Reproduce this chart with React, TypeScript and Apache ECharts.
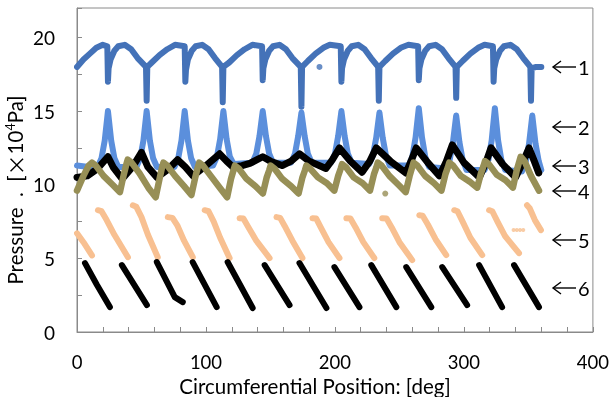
import React, { useEffect, useRef } from "react";
import * as echarts from "echarts";

const xTickLabels = [0, 100, 200, 300, 400];
const yTickLabels = [0, 5, 10, 15, 20];
const curveLabels = ["1", "2", "3", "4", "5", "6"];
const xTitle = "Circumferential Position: [deg]";

const series1 = [
  [0, 18.0], [5, 18.5], [10, 18.9], [15, 19.3], [20, 19.5], [23.5, 19.4],
  [24, 17.0], [24.5, 17.9], [26, 18.5], [29, 19.1], [32, 19.4], [37, 19.5], [42, 19.2], [47, 18.6], [53.5, 18.0],
  [54, 15.7], [54.5, 18.0], [58, 18.3], [64, 18.8], [70, 19.2], [76, 19.5], [83.5, 19.4],
  [84, 17.0], [84.5, 17.8], [86, 18.5], [89, 19.1], [92, 19.4], [97, 19.5], [102, 19.2], [107, 18.6], [112.5, 18.0],
  [113, 15.6], [113.5, 18.0], [118, 18.3], [124, 18.8], [130, 19.2], [136, 19.5], [143.5, 19.4],
  [144, 17.1], [144.5, 17.9], [146, 18.5], [149, 19.1], [152, 19.4], [157, 19.5], [162, 19.2], [167, 18.6], [173.5, 18.0],
  [174, 15.3], [174.5, 18.0], [179, 18.4], [185, 18.9], [191, 19.3], [196, 19.5], [204.5, 19.4],
  [205, 17.0], [205.5, 17.9], [207, 18.5], [210, 19.1], [213, 19.4], [218, 19.5], [223, 19.2], [228, 18.6], [233.5, 18.0],
  [234, 15.7], [234.5, 18.0], [239, 18.4], [245, 18.9], [251, 19.3], [257, 19.5], [264.5, 19.4],
  [265, 17.1], [265.5, 17.9], [267, 18.5], [270, 19.1], [273, 19.4], [278, 19.5], [283, 19.2], [288, 18.6], [293.5, 18.0],
  [294, 15.9], [294.5, 18.0], [299, 18.4], [305, 18.9], [311, 19.3], [316, 19.5], [322.5, 19.4],
  [323, 17.0], [323.5, 17.9], [325, 18.5], [328, 19.1], [331, 19.4], [336, 19.5], [341, 19.2], [346, 18.6], [351.5, 18.0],
  [352, 15.7], [352.5, 17.9], [356, 18.0], [360, 18.0],
];
const series1Stray = [[188, 18.0]];

const series2 = [
  [0, 11.3], [9, 11.2],
  [16, 11.2], [19, 11.8], [21.5, 13.0], [24, 15.0], [26.5, 13.0], [29, 11.8], [32, 11.2],
  [46, 11.2], [49, 11.8], [51.5, 13.0], [54, 15.0], [56.5, 13.0], [59, 11.8], [62, 11.2],
  [75.5, 11.2], [78.5, 11.8], [81, 13.0], [83.5, 15.0], [86, 13.0], [88.5, 11.8], [91.5, 11.2],
  [105.5, 11.3], [108.5, 11.9], [111, 13.1], [113.5, 15.0], [116, 13.1], [118.5, 11.9], [121.5, 11.4],
  [136, 11.5], [139, 12.1], [141.5, 13.3], [144, 15.0], [146.5, 13.3], [149, 12.1], [152, 11.5],
  [166, 11.5], [169, 12.1], [171.5, 13.3], [174, 14.9], [176.5, 13.3], [179, 12.1], [182, 11.5],
  [197, 11.5], [200, 12.1], [202.5, 13.3], [205, 15.0], [207.5, 13.3], [210, 12.1], [213, 11.5],
  [226.5, 11.4], [229.5, 12.0], [232, 13.2], [234.5, 14.9], [237, 13.2], [239.5, 12.0], [242.5, 11.3],
  [257, 11.3], [260, 11.9], [262.5, 13.2], [265, 15.2], [267.5, 13.2], [270, 11.9], [273, 11.2],
  [286, 11.1], [289, 11.7], [291.5, 12.9], [294, 14.7], [296.5, 12.9], [299, 11.7], [302, 11.0],
  [316, 11.0], [319, 11.7], [321.5, 13.0], [324, 15.2], [326.5, 13.0], [329, 11.7], [332, 11.0],
  [345, 10.9], [348, 11.6], [350.5, 12.8], [353, 14.7], [355.5, 12.8], [358, 11.6], [360, 11.0],
];

const series3 = [
  [0, 10.5], [8, 10.6], [16, 11.1], [24, 11.9], [28, 11.2], [35, 10.4], [43, 11.2], [50, 12.2], [55, 11.2],
  [62, 10.5], [70, 11.0], [78, 11.7], [84, 11.2], [90, 10.6], [100, 11.3], [110.6, 12.1], [116, 11.6],
  [121, 11.2], [128, 11.3], [134, 11.45], [144, 11.9], [150, 11.6], [159, 11.3], [166, 11.6], [172.5, 12.1],
  [180, 11.6], [193, 11.1], [198, 11.7], [203.5, 12.5], [212, 11.6], [221, 10.85], [227, 11.6], [232, 12.5],
  [243, 11.6], [255, 10.8], [259, 11.6], [263, 12.5], [272, 11.5], [281, 10.6], [286, 11.5], [291, 12.7],
  [300, 11.5], [312, 10.5], [317, 11.5], [321, 12.5], [330, 11.4], [340, 10.5], [345, 11.4], [350.5, 12.5],
  [355, 11.5], [358, 10.8],
];

const series4 = [
  [0, 9.6], [5, 10.6], [9, 11.3], [11.6, 11.5], [14.6, 11.3], [20.6, 10.6], [27.6, 10.0], [33.3, 9.5],
  [36.3, 10.7], [38.3, 11.4], [39.3, 11.7], [42.3, 11.5], [48.3, 10.8], [55.3, 9.8], [61, 9.15],
  [64, 10.4], [66, 11.2], [67, 11.5], [70, 11.3], [76, 10.6], [83, 9.9], [88.7, 9.3],
  [91.7, 10.5], [93.7, 11.2], [94.7, 11.5], [97.7, 11.3], [103.7, 10.6], [110.7, 9.8], [116.4, 9.15],
  [119.4, 10.4], [121.4, 11.0], [122.4, 11.3], [125.4, 11.1], [131.4, 10.4], [138.4, 9.9], [144.1, 9.4],
  [147.1, 10.5], [149.1, 11.0], [150.1, 11.3], [153.1, 11.1], [159.1, 10.4], [166.1, 9.9], [171.8, 9.4],
  [174.8, 10.5], [176.8, 11.0], [177.8, 11.3], [180.8, 11.1], [186.8, 10.5], [193.8, 10.1], [199.5, 9.6],
  [202.5, 10.6], [204.5, 11.1], [205.5, 11.4], [208.5, 11.2], [214.5, 10.5], [221.5, 10.1], [227.2, 9.6],
  [230.2, 10.7], [232.2, 11.2], [233.2, 11.5], [236.2, 11.3], [242.2, 10.6], [249.2, 10.0], [254.9, 9.5],
  [257.9, 10.6], [259.9, 11.2], [260.9, 11.5], [263.9, 11.3], [269.9, 10.6], [276.9, 10.1], [282.6, 9.6],
  [285.6, 10.7], [287.6, 11.2], [288.6, 11.5], [291.6, 11.3], [297.6, 10.6], [304.6, 10.2], [310.3, 9.8],
  [313.3, 10.8], [315.3, 11.3], [316.3, 11.6], [319.3, 11.4], [325.3, 10.7], [332.3, 10.3], [338, 9.8],
  [341, 11.0], [343, 11.6], [344, 11.9], [347, 11.6], [352, 10.6], [358.2, 9.6],
];
const series4Stray = [[239, 9.4]];

const series5Segments = [
  [[0, 6.7], [5, 6.1], [11.6, 5.2]],
  [[16.2, 8.27], [19, 8.2], [23, 7.6], [29, 6.6], [39.5, 5.08]],
  [[43.3, 8.6], [46, 8.5], [50, 7.8], [55, 6.6], [62.6, 5.08]],
  [[70.4, 7.8], [74, 7.75], [78, 7.2], [83, 6.2], [89.8, 5.08]],
  [[99, 8.27], [102, 8.2], [106, 7.5], [111, 6.4], [118.3, 5.02]],
  [[126.1, 7.73], [129, 7.7], [133, 7.1], [139, 6.2], [149.3, 5.02]],
  [[154.7, 7.8], [157.5, 7.75], [161, 7.2], [167, 6.2], [174.8, 5.02]],
  [[182.6, 7.73], [185.5, 7.7], [189, 7.1], [195, 6.1], [203.5, 5.02]],
  [[208.9, 7.73], [212, 7.7], [216, 7.1], [222, 6.1], [230.5, 5.02]],
  [[236.7, 7.73], [240, 7.7], [244, 7.1], [250, 6.1], [259.9, 4.88]],
  [[265.4, 7.93], [268, 7.9], [272, 7.3], [278, 6.3], [286.3, 5.22]],
  [[292.5, 8.27], [295, 8.2], [299, 7.5], [305, 6.4], [314.2, 5.22]],
  [[319.5, 8.27], [322, 8.2], [326, 7.5], [332, 6.5], [342.7, 5.36]],
  [[348.9, 8.61], [351, 8.4], [355, 7.6], [359.7, 6.92]],
];
const series5Dots = [[338.5, 6.92], [341, 6.92], [343.5, 6.92], [346, 6.92]];

const series6Segments = [
  [[6.2, 4.68], [15.5, 3.19], [25.5, 1.69]],
  [[34.8, 4.54], [54.2, 1.83]],
  [[61.9, 4.75], [75.8, 2.37], [82, 2.03]],
  [[89.7, 4.75], [108.3, 1.69]],
  [[116.8, 4.75], [136.2, 1.63]],
  [[145.5, 4.54], [164.8, 1.83]],
  [[172.5, 4.68], [193.4, 1.63]],
  [[199.6, 4.41], [219, 1.69]],
  [[228.2, 4.54], [247.6, 1.69]],
  [[255.3, 4.41], [274.7, 1.69]],
  [[283.2, 4.41], [302.5, 1.83]],
  [[311.8, 4.54], [329.6, 1.69]],
  [[338.9, 4.54], [358.2, 1.69]],
];

const FONT = "Lato, 'Open Sans', 'DejaVu Sans', sans-serif";
const CJK = "'Noto Sans CJK JP', 'DejaVu Sans', sans-serif";

export default function App() {
  const ref = useRef<HTMLDivElement>(null);
  useEffect(() => {
    const chart = echarts.init(ref.current!, null, { renderer: "svg" });
    const line = (data: number[][], color: string, width: number, z: number) => ({
      type: "line",
      data,
      symbol: "none",
      showSymbol: false,
      silent: true,
      z,
      lineStyle: { color, width, cap: "round", join: "round" },
    });
    const dots = (data: number[][], color: string, size: number, z: number) => ({
      type: "scatter",
      data,
      symbolSize: size,
      silent: true,
      z,
      itemStyle: { color },
    });
    const c1 = "#4472b8";
    const c2 = "#5b8fdc";
    const c4 = "#978f56";
    const c5 = "#f8c091";
    const series: any[] = [
      line(series1, c1, 6, 2),
      dots(series1Stray, c1, 6, 2),
      line(series2, c2, 6, 3),
      line(series3, "#000000", 7, 4),
      line(series4, c4, 6.5, 5),
      dots(series4Stray, c4, 6, 5),
      ...series5Segments.map((s) => line(s, c5, 6, 6)),
      dots(series5Dots, c5, 4, 6),
      ...series6Segments.map((s) => line(s, "#000000", 6, 7)),
    ];
    const labelY = [67, 127, 166, 191, 240, 288];
    const graphic: any[] = [];
    curveLabels.forEach((t, i) => {
      const y = labelY[i];
      graphic.push({
        type: "line",
        z: 100,
        shape: { x1: 553, y1: y, x2: 576, y2: y },
        style: { stroke: "#000", lineWidth: 1.4 },
      });
      graphic.push({
        type: "polyline",
        z: 100,
        shape: { points: [[561, y - 6], [553, y], [561, y + 6]] },
        style: { stroke: "#000", lineWidth: 1.4, fill: null },
      });
      graphic.push({
        type: "text",
        x: 578,
        y,
        z: 100,
        style: { text: t, fontSize: 20, fontFamily: FONT, fill: "#000", verticalAlign: "middle" },
      });
    });
    graphic.push({
      type: "text",
      x: 315,
      y: 386,
      z: 100,
      style: { text: xTitle, fontSize: 20.5, fontFamily: FONT, fill: "#000", align: "center", verticalAlign: "middle" },
    });
    graphic.push({
      type: "text",
      x: 15,
      y: 190,
      rotation: Math.PI / 2,
      z: 100,
      style: {
        text: "{a|Pressure  .  [}{x|\u00d7}{a|10}{s|4}{a|Pa]}",
        align: "center",
        verticalAlign: "middle",
        rich: {
          a: { fontSize: 20.5, fontFamily: FONT, fill: "#000" },
          x: { fontSize: 21, fontFamily: CJK, fill: "#000" },
          s: { fontSize: 12.5, fontFamily: FONT, fill: "#000", verticalAlign: "bottom", padding: [0, 0, 9, 0] },
        },
      },
    });
    chart.setOption({
      animation: false,
      grid: {
        left: 77,
        right: 18,
        top: 8,
        bottom: 65,
        show: true,
        borderColor: "#8a8a8a",
        borderWidth: 1,
      },
      xAxis: {
        type: "value",
        min: 0,
        max: 400,
        interval: 20,
        axisLine: { lineStyle: { color: "#8a8a8a" } },
        axisTick: { inside: true, length: 5, lineStyle: { color: "#8a8a8a" } },
        axisLabel: {
          formatter: (v: number) => (xTickLabels.includes(v) ? String(v) : ""),
          margin: 20,
          fontSize: 18.5,
          color: "#000",
          fontFamily: FONT,
        },
        splitLine: { show: false },
      },
      yAxis: {
        type: "value",
        min: 0,
        max: 22,
        interval: 2.5,
        axisLine: { show: true, lineStyle: { color: "#8a8a8a" } },
        axisTick: { show: true, inside: true, length: 5, lineStyle: { color: "#8a8a8a" } },
        axisLabel: {
          formatter: (v: number) => (yTickLabels.includes(v) ? String(v) : ""),
          margin: 22,
          fontSize: 19,
          color: "#000",
          fontFamily: FONT,
        },
        splitLine: { show: false },
      },
      graphic,
      series,
    });
    return () => chart.dispose();
  }, []);
  return <div ref={ref} style={{ position: "fixed", left: 0, top: 0, width: 612, height: 397 }} />;
}
